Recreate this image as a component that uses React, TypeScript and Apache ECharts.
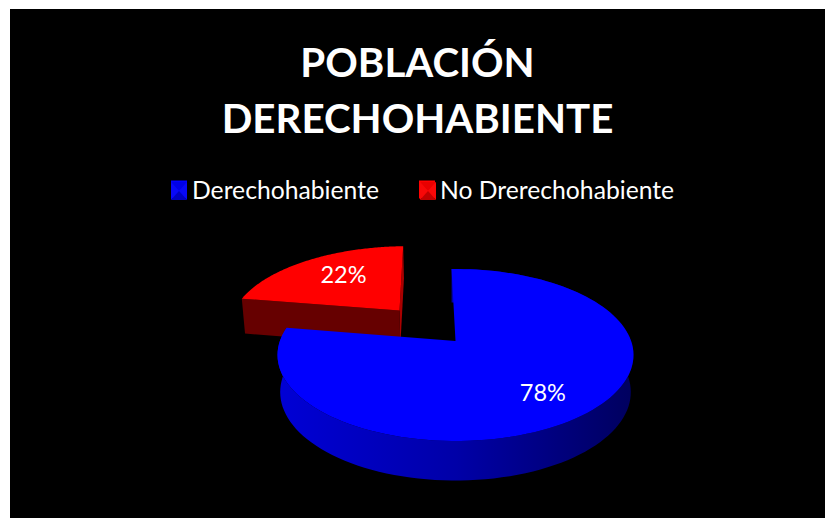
import React, { useEffect, useRef } from "react";
import * as echarts from "echarts";

const titleLines = ["POBLACIÓN", "DERECHOHABIENTE"];
const categories = ["Derechohabiente", "No Drerechohabiente"];
const values = [78, 22];
const labels = ["78%", "22%"];
const total = values.reduce((a, b) => a + b, 0);

// Perspective model of the tilted disc, in chart pixels
const APEX_X = 445.5;
const APEX_Y = 332;
const A = 83.7;
const B = 175.6;
const K = 0.163;
const START_DEG = -1.5;
const EXPLODE = [0, 0.516];
const BOTTOM_SCALE = 0.985;

function project(u: number, v: number) {
  const w = 1 + K * v;
  return [APEX_X + (B * u) / w, APEX_Y - (A * v) / w];
}
function depthAt(v: number) {
  return 36.5 - 3 * v;
}

const topColors = ["#0000ff", "#ff0000"];
const bevelDark = ["#0000c0", "#c00000"];
const bevelMid = ["#0000e8", "#e80000"];
const bevelLight = ["#0808f8", "#f80808"];

function sliceRender(index: number) {
  return (_params: any, api: any) => {
    const value = api.value(0) as number;
    let before = 0;
    for (let i = 0; i < index; i++) before += values[i];
    const a0 = ((before / total) * 360 + START_DEG) * (Math.PI / 180);
    const a1 = (((before + value) / total) * 360 + START_DEG) * (Math.PI / 180);
    const mid = (a0 + a1) / 2;
    const e = EXPLODE[index];
    const ou = e * Math.sin(mid);
    const ov = e * Math.cos(mid);
    const toTop = (u: number, v: number) => project(u + ou, v + ov);
    const toBottom = (u: number, v: number) => {
      const p = project(u + ou, v + ov);
      return [
        APEX_X + (p[0] - APEX_X) * BOTTOM_SCALE,
        p[1] + depthAt(v + ov),
      ];
    };

    const steps = 120;
    const arcTop: number[][] = [];
    const arcBottom: number[][] = [];
    for (let i = 0; i <= steps; i++) {
      const a = a0 + ((a1 - a0) * i) / steps;
      const u = Math.sin(a);
      const v = Math.cos(a);
      arcTop.push(toTop(u, v));
      arcBottom.push(toBottom(u, v));
    }
    const centreTop = toTop(0, 0);
    const centreBottom = toBottom(0, 0);

    const children: any[] = [];
    if (index === 0) {
      children.push({
        type: "polygon",
        shape: { points: [...arcTop, ...arcBottom.slice().reverse()] },
        style: {
          fill: new echarts.graphic.LinearGradient(0, 0, 1, 0, [
            { offset: 0, color: "#0000d6" },
            { offset: 0.5, color: "#0000a8" },
            { offset: 1, color: "#00005e" },
          ]),
        },
      });
    } else {
      children.push({
        type: "polygon",
        shape: {
          points: [centreTop, arcTop[arcTop.length - 1], arcBottom[arcBottom.length - 1], centreBottom],
        },
        style: { fill: "#aa0000" },
      });
      children.push({
        type: "polygon",
        shape: { points: [centreTop, arcTop[0], arcBottom[0], centreBottom] },
        style: { fill: "#660000" },
      });
    }
    children.push({
      type: "polygon",
      shape: { points: [centreTop, ...arcTop] },
      style: { fill: topColors[index] },
    });
    const r = index === 0 ? 0.7 : 0.62;
    const lp = toTop(r * Math.sin(mid), r * Math.cos(mid));
    children.push({
      type: "text",
      x: lp[0] + (index === 0 ? -1 : 3),
      y: lp[1] + (index === 0 ? 3 : -4),
      style: {
        text: labels[index],
        fill: "#ffffff",
        font: "23.5px Lato",
        align: "center",
        verticalAlign: "middle",
      },
    });
    return { type: "group", children };
  };
}

// Small bevel over a legend key
function bevel(x: number, y: number, i: number) {
  const w = 16;
  const h = 18;
  const cx = x + w / 2;
  const cy = y + h / 2;
  const tri = (pts: number[][], fill: string) => ({
    type: "polygon",
    silent: true,
    z: 100,
    shape: { points: pts },
    style: { fill },
  });
  return [
    tri([[x, y], [x + w, y], [cx, cy]], bevelMid[i]),
    tri([[x, y], [cx, cy], [x, y + h]], bevelLight[i]),
    tri([[x + w, y], [cx, cy], [x + w, y + h]], bevelLight[i]),
    tri([[x, y + h], [x + w, y + h], [cx, cy]], bevelDark[i]),
  ];
}

export default function App() {
  const ref = useRef<HTMLDivElement>(null);
  useEffect(() => {
    const chart = echarts.init(ref.current!, undefined, { renderer: "svg" });
    chart.setOption({
      animation: false,
      backgroundColor: "#000000",
      title: {
        text: titleLines.join("\n"),
        left: "center",
        top: 24,
        padding: 0,
        textStyle: {
          color: "#ffffff",
          fontFamily: "Lato",
          fontWeight: "bold",
          fontSize: 40.3,
          lineHeight: 56,
        },
      },
      legend: {
        left: 161,
        top: 168,
        padding: 0,
        itemWidth: 16,
        itemHeight: 18,
        itemGap: 40,
        data: categories.map((name, i) => ({
          name,
          icon: "rect",
          itemStyle: { color: topColors[i] },
        })),
        textStyle: { color: "#ffffff", fontFamily: "Lato", fontSize: 24.7 },
      },
      graphic: [...bevel(161, 173, 0), ...bevel(410, 173, 1)],
      series: categories.map((name, i) => ({
        type: "custom",
        name,
        coordinateSystem: "none",
        z: i === 0 ? 3 : 2,
        silent: true,
        data: [[values[i]]],
        renderItem: sliceRender(i),
      })),
    });
    return () => chart.dispose();
  }, []);
  return (
    <div
      ref={ref}
      style={{ position: "absolute", left: 10, top: 9, width: 815, height: 509 }}
    />
  );
}
